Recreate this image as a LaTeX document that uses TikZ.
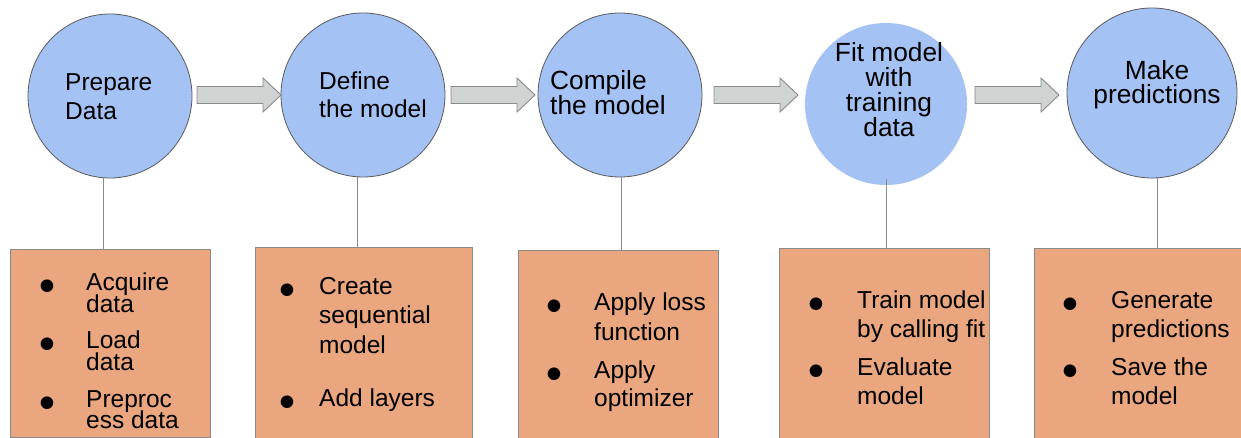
\documentclass[tikz,border=0pt]{standalone}
\usepackage{fontspec}
\setmainfont{Liberation Sans}
\newfontfamily\markfont{DejaVu Sans}
\usetikzlibrary{calc}

\definecolor{stageblue}{HTML}{A4C2F4}
\definecolor{notefill}{HTML}{EAA67F}
\definecolor{arrowfill}{HTML}{CFD4D2}
\definecolor{rimgrey}{HTML}{5A5A5A}
\definecolor{linkgrey}{HTML}{8A8A8A}

% stacked lines whose first baseline is the box baseline
\newcommand\leftlines[1]{\vtop{\halign{##\hfil\cr#1\crcr}}}
\newcommand\midlines[1]{\vtop{\halign{\hfil##\hfil\cr#1\crcr}}}
\newcommand\setsize[2]{\fontsize{#1}{#2}\selectfont\lineskiplimit=-100pt\relax}

\tikzset{
  pics/flowarrow/.style={code={
    \draw[fill=arrowfill, draw=linkgrey, line width=0.9pt, line join=miter]
      (0,-8.5) -- (66,-8.5) -- (66,-17) -- (84,0) -- (66,17) -- (66,8.5) -- (0,8.5) -- cycle;
  }}
}

\begin{document}
\begin{tikzpicture}[x=1pt, y=-1pt,
  stage/.style={circle, fill=stageblue, draw=rimgrey, line width=0.8pt,
                minimum size=164pt, inner sep=0pt},
  note/.style={rectangle, fill=notefill, draw=linkgrey, line width=1pt,
               anchor=north west, minimum height=200pt, inner sep=0pt},
  link/.style={draw=linkgrey, line width=1pt},
  lefttext/.style={anchor=base west, inner sep=0pt},
  midtext/.style={anchor=base, inner sep=0pt},
  bullettext/.style={anchor=base, inner sep=0pt, font=\markfont\fontsize{16.5}{17}\selectfont},
]
\useasboundingbox (0,0) rectangle (1241,438);
\fill[white] (0,0) rectangle (1241,438);

% the five stages
\node[stage] (s1) at (110,96) {};
\node[stage] (s2) at (363,95) {};
\node[stage] (s3) at (620,95) {};
\node[stage, draw=none, minimum size=162pt] (s4) at (886,104) {};
\node[stage, minimum size=170pt] (s5) at (1152,93) {};

% block arrows between the stages
\pic (a1) at (197,95) {flowarrow};
\pic (a2) at (451,95) {flowarrow};
\pic (a3) at (714,95) {flowarrow};
\pic (a4) at (975,95) {flowarrow};

% the note boxes
\node[note, minimum width=200pt, minimum height=188pt] (n1) at (10,249) {};
\node[note, minimum width=217pt] (n2) at (255,247) {};
\node[note, minimum width=200pt] (n3) at (518,250) {};
\node[note, minimum width=210pt] (n4) at (779,248) {};
\node[note, minimum width=220pt] (n5) at (1034,248) {};

% stems from each stage down to its notes
\draw[link] (103,0 |- s1.south) -- (103,0 |- n1.north);
\draw[link] (357,0 |- s2.south) -- (357,0 |- n2.north);
\draw[link] (621,0 |- s3.south) -- (621,0 |- n3.north);
\draw[link] ($(886,0 |- s4.south)+(0,-6)$) -- (886,0 |- n4.north);
\draw[link] (1157,0 |- s5.south) -- (1157,0 |- n5.north);

% stage titles
\node[lefttext, font=\setsize{24.5}{29}] (t1) at (65,91)  {\leftlines{Prepare\cr Data}};
\node[lefttext, font=\setsize{24.5}{28}] (t2) at (319,90) {\leftlines{Define\cr the model}};
\node[lefttext, font=\setsize{26.3}{25}] (t3) at (550,90) {\leftlines{Compile\cr the model}};
\node[midtext,  font=\setsize{26.3}{25}] (t4) at (889,62) {\midlines{Fit model\cr with\cr training\cr data}};
\node[midtext,  font=\setsize{26.3}{24}] (t5) at (1157,80) {\midlines{Make\cr predictions}};

% bullet marks
\foreach \x/\y [count=\k] in {47/290, 47/348, 47/407, 287/294, 287/406,
                              554/310, 554/378, 816/308, 816/375, 1070/308, 1070/375}
  \node[bullettext] (b\k) at (\x,\y) {●};

% note items
\foreach \x/\y/\s/\t [count=\k] in {
    86/290/22/Acquire\cr data, 86/348/22/Load\cr data, 86/407/21/Preproc\cr ess data,
    319/294/29.5/Create\cr sequential\cr model, 319/406/29.5/Add layers,
    594/310/30/Apply loss\cr function, 594/378/28/Apply\cr optimizer,
    857/308/29/Train model\cr by calling fit, 857/375/29/Evaluate\cr model,
    1111/308/29/Generate\cr predictions, 1111/375/29/Save the\cr model}
  \node[lefttext, font=\setsize{24.5}{\s}] (i\k) at (\x,\y) {\leftlines{\t}};
\end{tikzpicture}
\end{document}
